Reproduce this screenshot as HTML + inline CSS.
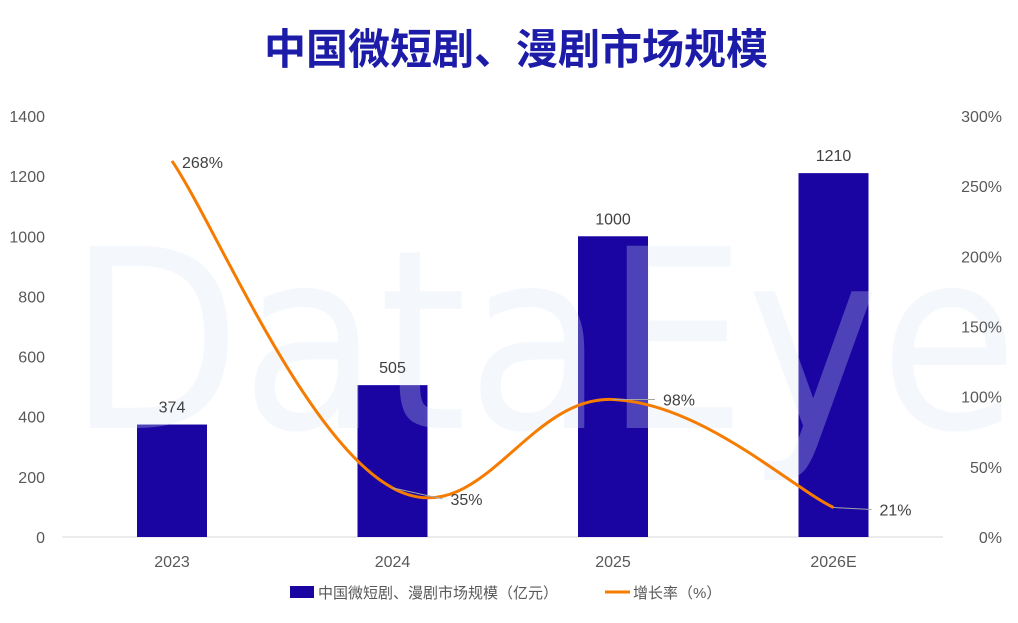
<!DOCTYPE html>
<html><head><meta charset="utf-8"><style>
body{margin:0;background:#fff;width:1018px;height:618px;overflow:hidden;font-family:"Liberation Sans","Noto Sans CJK SC",sans-serif}
</style></head><body>
<svg id="c" width="1018" height="618" xmlns="http://www.w3.org/2000/svg">
<text x="516" y="64" text-anchor="middle" font-size="42" font-weight="bold" fill="#1c1ca8" font-family="Liberation Sans,Noto Sans CJK SC,sans-serif">中国微短剧、漫剧市场规模</text>
<g id="g"></g>
</svg>
<script>
const categories=["2023","2024","2025","2026E"];
const marketSize=[374,505,1000,1210];
const growth=[268,35,98,21];
const leftTicks=[0,200,400,600,800,1000,1200,1400];
const rightTicks=[0,50,100,150,200,250,300];
const NS="http://www.w3.org/2000/svg";
const g=document.getElementById('g');
const y0=537,yTop=116;
const yL=v=>y0-(v/1400)*(y0-yTop);
const yR=v=>y0-(v/300)*(y0-yTop);
const xC=i=>172+i*220.5;
function mk(t,a,p){const e=document.createElementNS(NS,t);for(const k in a)e.setAttribute(k,a[k]);(p||g).appendChild(e);return e;}
const axis=mk('line',{x1:62,x2:943,y1:y0,y2:y0,stroke:'#d9d9d9','stroke-width':1});


marketSize.forEach((v,i)=>{const r=mk('rect',{x:xC(i)-35,y:yL(v),width:70,height:y0-yL(v),fill:'#1a05a3'});

});
const wm=mk('text',{x:68,y:428,'font-size':250,'font-weight':'normal',fill:'#d6e2f6','fill-opacity':0.28,'textLength':950,'lengthAdjust':'spacingAndGlyphs','font-family':'DejaVu Sans,sans-serif'});
wm.textContent='DataEye';


leftTicks.forEach(v=>{const t=mk('text',{x:45,y:yL(v)+6,'text-anchor':'end','font-size':16,fill:'#595959'});t.textContent=v;

});
rightTicks.forEach(v=>{const t=mk('text',{x:1002,y:yR(v)+6,'text-anchor':'end','font-size':16,fill:'#595959'});t.textContent=v+'%';

});
categories.forEach((c,i)=>{const t=mk('text',{x:xC(i),y:567,'text-anchor':'middle','font-size':16,fill:'#595959'});t.textContent=c;

});
marketSize.forEach((v,i)=>{
const t=mk('text',{x:xC(i),y:yL(v)-12,'text-anchor':'middle','font-size':16,fill:'#404040'});t.textContent=v;

});
const pts=growth.map((v,i)=>[xC(i),yR(v)]);
let d='M'+pts[0][0]+','+pts[0][1];
for(let i=0;i<pts.length-1;i++){const p0=pts[i-1]||pts[i],p1=pts[i],p2=pts[i+1],p3=pts[i+2]||p2;const k=0.2;
d+=` C${p1[0]+(p2[0]-p0[0])*k},${p1[1]+(p2[1]-p0[1])*k} ${p2[0]-(p3[0]-p1[0])*k},${p2[1]-(p3[1]-p1[1])*k} ${p2[0]},${p2[1]}`;}
const line=mk('path',{d:d,fill:'none',stroke:'#f57c00','stroke-width':3});


const off=[[10,7,false],[58,17,true],[50,6,true],[46,8,true]];
growth.forEach((v,i)=>{const [dx,dy,lead]=off[i];const x=pts[i][0],y=pts[i][1];
if(lead){const l=mk('line',{x1:x,y1:y,x2:x+dx-8,y2:y+dy-6,stroke:'#a6a6a6','stroke-width':1});

}
const t=mk('text',{x:x+dx,y:y+dy,'font-size':16,fill:'#404040'});t.textContent=v+'%';

});
const lr=mk('rect',{x:290,y:586,width:24,height:12,fill:'#1a05a3'});


const lt=mk('text',{x:318,y:598,'font-size':15,fill:'#595959'});lt.textContent='中国微短剧、漫剧市场规模（亿元）';


const ll=mk('line',{x1:605,x2:630,y1:592,y2:592,stroke:'#f57c00','stroke-width':3});


const lt2=mk('text',{x:633,y:598,'font-size':15,fill:'#595959'});lt2.textContent='增长率（%）';


</script>
</body></html>
